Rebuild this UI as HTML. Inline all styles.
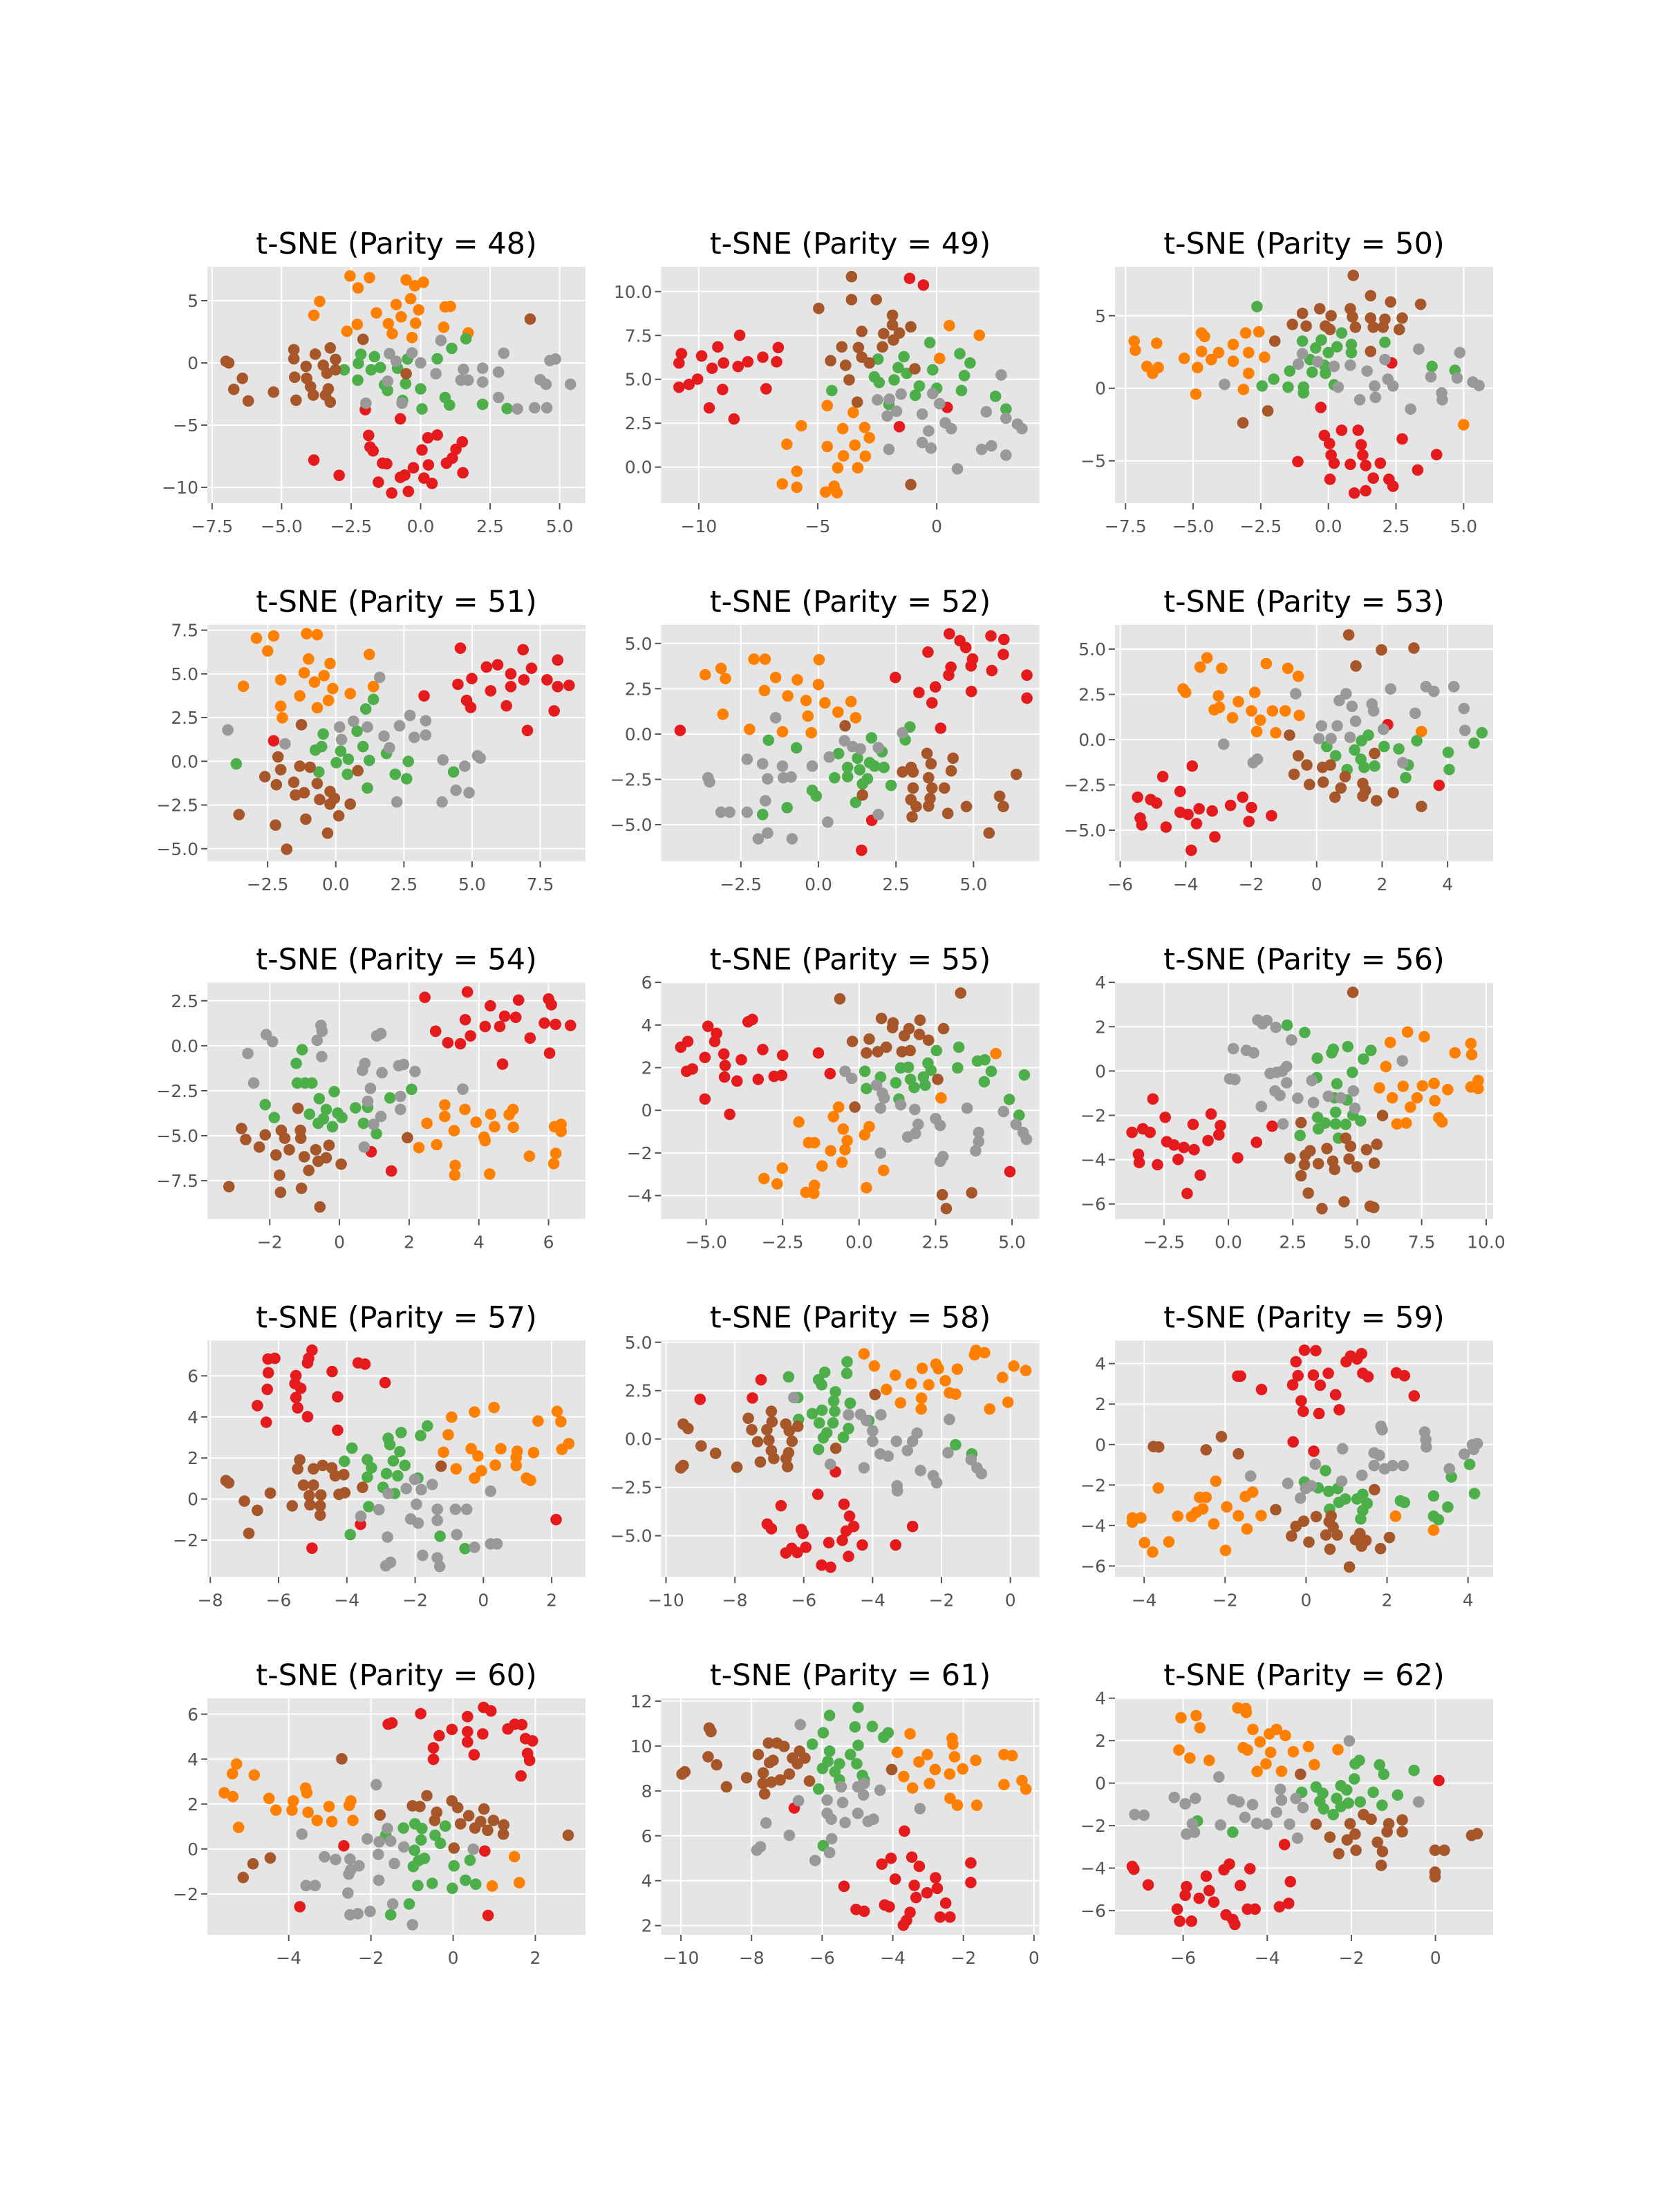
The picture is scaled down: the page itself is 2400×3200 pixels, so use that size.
<!DOCTYPE html>
<html>
<head>
<meta charset="utf-8">
<style>
  html, body { margin:0; padding:0; background:#ffffff; }
  svg { display:block; }
  text { font-family: "DejaVu Sans", "Liberation Sans", sans-serif; }
</style>
</head>
<body>
<svg id="fig" xmlns="http://www.w3.org/2000/svg" width="2400" height="3200" viewBox="0 0 2400 3200">
  <rect x="0" y="0" width="2400" height="3200" fill="#ffffff"/>
</svg>
<script>
// ---------- data ----------
const parities = [48,49,50,51,52,53,54,55,56,57,58,59,60,61,62];
const classNames = ["red","orange","green","gray","brown"];
const classColors = ["#e41a1c","#ff7f00","#4daf4a","#999999","#a65628"];

const xlims = [[-7.67,5.93],[-11.58,4.31],[-7.89,6.09],[-4.71,9.16],[-5.07,7.12],[-6.16,5.39],[-3.79,7.06],[-6.47,5.89],[-4.40,10.27],[-8.085,2.99],[-10.14,0.84],[-4.72,4.62],[-5.98,3.22],[-10.56,0.15],[-7.62,1.37]];
const ylims = [[-11.28,7.72],[-2.06,11.41],[-7.92,8.37],[-5.71,7.81],[-7.01,6.03],[-6.71,6.35],[-9.63,3.51],[-5.10,5.99],[-6.68,3.99],[-3.79,7.72],[-7.13,5.09],[-6.54,5.14],[-3.82,6.70],[1.59,12.12],[-7.14,3.99]];
const xticks = [[-7.5,-5,-2.5,0,2.5,5],[-10,-5,0],[-7.5,-5,-2.5,0,2.5,5],[-2.5,0,2.5,5,7.5],[-2.5,0,2.5,5],[-6,-4,-2,0,2,4],[-2,0,2,4,6],[-5,-2.5,0,2.5,5],[-2.5,0,2.5,5,7.5,10],[-8,-6,-4,-2,0,2],[-10,-8,-6,-4,-2,0],[-4,-2,0,2,4],[-4,-2,0,2],[-10,-8,-6,-4,-2,0],[-6,-4,-2,0]];
const yticks = [[-10,-5,0,5],[0,2.5,5,7.5,10],[-5,0,5],[-5,-2.5,0,2.5,5,7.5],[-5,-2.5,0,2.5,5],[-5,-2.5,0,2.5,5],[-7.5,-5,-2.5,0,2.5],[-4,-2,0,2,4,6],[-6,-4,-2,0,2,4],[-2,0,2,4,6],[-5,-2.5,0,2.5,5],[-6,-4,-2,0,2,4],[-2,0,2,4,6],[2,4,6,8,10,12],[-6,-4,-2,0,2,4]];

// Parity 48
const red48 = [[-1.99,-3.76],[-0.73,-4.5],[-1.87,-5.83],[-1.82,-6.76],[-1.71,-7.07],[-1.37,-8.06],[-1.22,-8.11],[-3.84,-7.81],[-2.93,-9.04],[-1.52,-9.59],[-1.04,-10.46],[-0.73,-9.2],[-0.57,-9.02],[-0.44,-10.33],[-0.26,-8.43],[0.05,-7.0],[0.26,-6.02],[0.6,-5.8],[0.28,-8.2],[0.12,-9.26],[0.41,-9.69],[0.93,-8.06],[1.14,-7.65],[1.27,-6.94],[1.5,-6.35],[1.52,-8.83]];
const orange48 = [[-2.54,6.98],[-1.84,6.85],[-2.25,6.02],[-0.52,6.67],[-0.21,6.2],[0.1,6.48],[-3.63,4.94],[-3.84,3.83],[-0.88,4.69],[-0.36,5.15],[-0.07,4.26],[-1.59,4.02],[-0.7,3.7],[-1.16,3.15],[-0.18,3.19],[-2.28,3.09],[-2.65,2.54],[-1.02,2.35],[-0.31,2.04],[0.88,4.5],[1.07,4.54],[0.83,2.87],[1.71,2.41]];
const green48 = [[-2.75,-0.56],[-2.15,0.69],[-2.24,-0.04],[-2.26,-1.39],[-1.66,0.5],[-1.78,-0.56],[-1.45,-0.37],[-0.83,-0.43],[-0.47,0.31],[-1.3,-1.76],[-1.19,-2.22],[-0.54,-1.67],[-0.65,-3.02],[0,-2.09],[0.05,-3.7],[0.6,0.33],[1.12,1.17],[1.63,1.94],[0.88,-2.78],[1.04,-3.39],[2.23,-3.33],[3.11,-3.67]];
const gray48 = [[-1.12,0.74],[-0.88,0.13],[-0.31,0.8],[0,0],[-1.19,-1.48],[-1.97,-3.24],[-0.67,-3.24],[0.73,1.8],[0.55,-0.87],[1.54,-0.52],[1.45,-1.39],[1.71,-1.39],[2.23,-0.43],[2.23,-1.54],[2.8,-0.74],[2.8,-2.78],[2.99,0.78],[3.48,-3.7],[4.1,-3.61],[4.54,-3.61],[4.3,-1.35],[4.51,-1.72],[4.65,0.19],[4.85,0.31],[5.39,-1.72]];
const brown48 = [[-7.0,0.13],[-6.9,0],[-6.41,-1.24],[-6.72,-2.13],[-6.2,-3.06],[-5.29,-2.35],[-4.56,1.06],[-4.56,0.33],[-3.79,0.7],[-3.25,1.2],[-4.12,-0.28],[-4.53,-1.15],[-4.1,-1.24],[-3.96,-1.91],[-3.86,-2.59],[-4.48,-3.0],[-3.5,-0.19],[-3.37,-0.83],[-3.06,0.28],[-3.06,-0.56],[-3.32,-2.09],[-3.25,-3.15],[-3.42,-2.59],[-2.07,1.89],[-0.52,-0.87],[3.94,3.52]];

// Parity 49
const red49 = [[-10.73,6.46],[-10.83,5.93],[-9.88,6.33],[-10.83,4.55],[-10.41,4.71],[-10.05,5.01],[-9.2,6.85],[-8.96,5.93],[-9.44,5.63],[-9.0,4.42],[-9.56,3.37],[-8.52,2.74],[-8.28,7.51],[-8.35,5.73],[-7.94,6.0],[-7.31,6.26],[-7.17,4.46],[-6.66,6.81],[-6.73,6.0],[-1.14,10.75],[-0.56,10.37],[0.44,3.4],[-1.57,2.3]];
const orange49 = [[0.53,8.06],[1.79,7.51],[0.12,6.19],[-4.6,3.5],[-3.51,3.11],[-5.69,2.35],[-3.95,2.19],[-3.03,2.26],[-2.83,1.67],[-6.3,1.3],[-4.6,1.17],[-3.44,1.25],[-3.92,0.64],[-3.0,0.62],[-4.16,-0.04],[-3.32,-0.04],[-5.88,-0.24],[-6.49,-0.96],[-5.88,-1.15],[-4.67,-1.42],[-4.19,-1.46],[-4.31,-1.09]];
const green49 = [[-0.29,7.09],[0.97,6.46],[1.4,5.93],[-2.47,6.15],[-1.38,6.29],[-1.62,5.67],[-0.17,5.54],[-1.26,5.34],[-2.62,5.14],[-2.42,4.82],[-1.79,4.97],[1.16,5.21],[-0.73,4.62],[0.0,4.49],[1.04,4.36],[-4.41,4.36],[-0.9,4.09],[2.47,4.03],[2.91,3.31],[-2.01,3.57]];
const gray49 = [[2.71,5.25],[-0.17,4.19],[-1.5,4.16],[-2.49,3.83],[-1.99,3.87],[0.12,3.61],[-1.69,3.18],[-0.61,3.02],[-2.08,2.91],[2.08,3.15],[2.91,2.78],[0.36,2.52],[0.61,2.19],[3.39,2.45],[3.58,2.19],[-0.34,2.06],[-0.61,1.4],[-0.24,1.08],[-2.01,1.01],[1.89,1.01],[2.3,1.21],[2.91,0.68],[0.87,-0.1]];
const brown49 = [[-3.58,10.85],[-3.58,9.54],[-2.54,9.54],[-4.96,9.04],[-1.86,8.65],[-1.86,8.1],[-1.09,7.99],[-3.15,7.73],[-2.23,7.6],[-1.57,7.64],[-3.99,6.85],[-3.29,6.81],[-2.28,6.85],[-4.46,6.06],[-3.83,5.8],[-3.15,6.26],[-2.83,5.93],[-0.92,5.6],[-3.68,4.97],[-3.34,3.7],[-1.09,-1.0],[-1.82,7.24]];

// Parity 50
const red50 = [[2.34,1.75],[-0.28,-1.32],[-0.15,-3.25],[0.49,-2.89],[1.1,-2.89],[0.04,-3.81],[1.21,-3.89],[2.73,-3.49],[0.1,-4.6],[1.27,-4.6],[4.0,-4.57],[-1.13,-5.05],[0.21,-5.16],[0.81,-5.24],[1.38,-5.32],[1.92,-5.16],[3.3,-5.63],[0.06,-6.27],[1.66,-6.19],[2.24,-6.27],[2.39,-6.75],[0.96,-7.22],[1.38,-7.06]];
const orange50 = [[-7.18,3.25],[-7.14,2.62],[-6.35,3.1],[-6.71,1.51],[-6.29,1.43],[-6.5,1.03],[-5.33,2.06],[-4.84,1.43],[-4.9,-0.4],[-4.69,3.81],[-4.58,3.57],[-4.69,2.54],[-4.33,1.98],[-4.06,2.46],[-3.52,1.86],[-3.52,3.02],[-3.06,3.81],[-2.57,3.89],[-2.95,2.46],[-2.36,2.14],[-2.95,1.03],[-3.14,-0.08],[5.0,-2.51]];
const green50 = [[-2.64,5.63],[0.49,3.81],[-0.96,3.25],[-0.26,3.33],[0.32,2.86],[0.85,3.02],[2.09,3.17],[-0.47,2.78],[0.0,2.46],[0.85,2.46],[-0.68,1.98],[-0.15,1.59],[-1.43,1.19],[-0.6,1.11],[-0.11,1.03],[-2.02,0.63],[-2.45,0.16],[-1.49,0.08],[-0.92,0.08],[-0.92,-0.32],[0.21,0.24],[3.83,1.51],[4.68,1.24]];
const gray50 = [[-0.96,2.38],[-1.11,1.67],[-0.39,1.83],[0.21,1.51],[0.81,1.59],[1.43,1.19],[2.09,1.98],[2.2,0.63],[1.71,0.16],[2.39,0.16],[0.36,0.08],[-3.84,0.27],[1.16,-0.79],[1.74,-0.63],[3.34,2.7],[4.86,2.46],[3.79,0.79],[4.76,0.71],[5.34,0.43],[5.57,0.19],[4.19,-0.32],[4.21,-0.79],[3.04,-1.43]];
const brown50 = [[0.92,7.78],[1.56,6.38],[2.3,5.95],[3.41,5.79],[-0.96,5.16],[-0.32,5.48],[0.1,5.0],[0.81,5.48],[0.89,4.92],[1.56,4.84],[2.09,4.76],[2.73,4.84],[-1.33,4.4],[-0.82,4.29],[-0.11,4.29],[1.0,4.21],[1.66,4.21],[2.02,4.21],[2.62,4.05],[0.06,4.05],[-1.98,3.25],[1.56,2.54],[-2.24,-1.56],[-3.16,-2.38]];

// Parity 51
const red51 = [[4.57,6.47],[6.87,6.38],[8.14,5.79],[5.53,5.39],[5.94,5.52],[7.18,5.32],[6.42,5.0],[4.99,4.73],[4.48,4.4],[6.9,4.66],[7.75,4.66],[5.68,4.03],[6.42,4.27],[8.56,4.34],[8.14,4.27],[3.24,3.74],[4.8,3.48],[4.95,3.08],[6.26,3.17],[8.01,2.88],[7.03,1.76],[-2.28,1.17]];
const orange51 = [[-2.91,7.04],[-2.28,7.17],[-1.07,7.3],[-0.68,7.24],[-2.5,6.31],[-1.0,5.85],[-0.21,5.59],[1.23,6.11],[-3.39,4.29],[-2.02,4.66],[-1.16,5.06],[-0.43,4.9],[-0.78,4.53],[-0.11,4.16],[0.53,3.87],[-1.32,3.74],[-0.27,3.48],[-0.68,3.06],[-2.02,3.15],[-1.96,2.49],[1.38,4.27]];
const green51 = [[1.38,3.54],[1.1,2.99],[0.78,1.72],[-0.46,1.56],[-0.75,0.64],[-0.52,0.84],[0.18,0.58],[1.0,0.84],[0.46,0.12],[0.02,-0.08],[1.23,0.05],[1.86,0.45],[2.66,-0.01],[-3.65,-0.15],[-0.62,-0.61],[0.43,-0.74],[2.18,-0.74],[2.6,-1.0],[1.16,-1.53],[4.32,-0.61]];
const gray51 = [[-3.96,1.79],[1.61,4.8],[0.65,2.29],[2.72,2.62],[3.3,2.32],[2.34,2.03],[0.14,1.96],[1.16,1.96],[0.21,1.24],[1.77,1.44],[2.88,1.37],[3.3,1.5],[1.97,0.77],[-1.86,1.0],[3.93,0.08],[5.3,0.18],[5.2,0.31],[4.73,-0.28],[4.41,-1.66],[4.89,-1.8],[2.24,-2.33],[3.9,-2.33]];
const brown51 = [[-1.26,2.09],[-2.12,0.25],[-2.02,-0.48],[-2.6,-0.88],[-1.32,-0.28],[-0.94,-0.34],[-2.18,-1.34],[-1.54,-1.2],[-0.68,-1.27],[0.81,-0.54],[-0.21,-1.73],[-1.48,-1.93],[-1.16,-1.8],[-0.59,-2.19],[-0.05,-2.12],[-0.21,-2.45],[0.53,-2.45],[-3.55,-3.05],[0.11,-3.12],[-2.21,-3.65],[-1.1,-3.31],[-0.3,-4.11],[-1.8,-5.03]];

// Parity 52
const red52 = [[4.22,5.53],[5.56,5.41],[5.98,5.22],[4.56,5.15],[4.75,4.77],[3.53,4.52],[5.96,4.39],[4.97,4.14],[4.27,3.69],[4.92,3.76],[5.59,3.5],[4.2,3.25],[6.72,3.25],[2.48,3.12],[3.77,2.6],[3.24,2.29],[4.93,2.35],[3.66,1.72],[6.72,1.98],[3.94,0.32],[-4.46,0.2],[1.72,-4.76],[1.39,-6.41]];
const orange52 = [[-3.65,3.27],[-3.14,3.62],[-2.08,4.13],[-1.72,4.13],[0.02,4.1],[-3.0,3.06],[-1.38,3.12],[-0.68,2.99],[0.0,2.73],[-1.74,2.4],[-0.99,2.1],[-0.4,1.85],[0.21,1.72],[1.05,1.79],[0.63,1.21],[-3.08,1.09],[-0.34,0.99],[1.2,0.9],[-2.22,0.26],[-1.16,0.13],[-0.23,0.07]];
const green52 = [[2.95,0.39],[-1.61,-0.34],[1.71,-0.21],[2.8,-0.32],[-0.71,-0.76],[0.65,-1.08],[2.05,-0.98],[1.26,-1.33],[1.65,-1.58],[0.94,-1.84],[1.81,-1.77],[2.11,-1.84],[1.33,-1.97],[0.52,-2.41],[0.94,-2.35],[1.58,-2.47],[1.42,-2.75],[2.34,-2.83],[-0.2,-3.11],[-0.07,-3.42],[1.2,-3.77],[-1.01,-4.06],[-1.8,-4.44]];
const gray52 = [[-1.38,0.9],[0.84,-0.37],[1.1,-0.69],[1.35,-0.82],[1.93,-0.75],[2.71,0.07],[0.35,-1.27],[-2.3,-1.39],[-1.8,-1.64],[-1.16,-1.77],[-0.2,-1.77],[-1.64,-2.47],[-1.13,-2.41],[-0.88,-2.37],[-3.56,-2.41],[-3.51,-2.64],[-1.71,-3.68],[-3.14,-4.31],[-2.86,-4.31],[-2.3,-4.31],[0.3,-4.86],[1.93,-4.44],[-1.94,-5.78],[-1.64,-5.46],[-0.85,-5.78]];
const brown52 = [[0.86,0.45],[3.5,-1.07],[4.34,-1.33],[2.99,-1.84],[3.63,-1.64],[2.71,-2.09],[3.05,-2.09],[4.28,-2.03],[3.55,-2.41],[6.38,-2.22],[3.05,-2.98],[3.66,-2.98],[4.06,-2.98],[1.42,-3.36],[2.98,-3.62],[3.6,-3.55],[5.84,-3.43],[3.15,-4.0],[4.77,-4.0],[5.96,-4.0],[3.55,-3.97],[4.17,-4.38],[3.02,-4.57],[5.5,-5.46]];

// Parity 53
const red53 = [[2.17,0.83],[-3.8,-1.46],[-4.7,-2.04],[-4.17,-2.86],[-5.47,-3.18],[-5.07,-3.31],[-4.89,-3.5],[-2.26,-3.18],[-2.63,-3.63],[-1.99,-3.75],[-3.59,-3.82],[-3.19,-3.94],[-4.17,-4.01],[-3.93,-4.13],[-1.38,-4.2],[-5.39,-4.33],[-5.34,-4.71],[-2.07,-4.52],[-3.67,-4.64],[-4.6,-4.83],[-3.11,-5.37],[-3.83,-6.11],[3.74,-2.52]];
const orange53 = [[-3.35,4.52],[-3.56,4.01],[-2.9,3.94],[-1.54,4.2],[-0.88,3.94],[-0.56,3.5],[-4.08,2.8],[-4.0,2.61],[-3.0,2.42],[-1.89,2.61],[-2.39,2.1],[-3.13,1.65],[-2.97,1.78],[-2.57,1.21],[-1.99,1.59],[-1.35,1.59],[-0.96,1.59],[-1.72,1.08],[-0.53,1.34],[-1.83,0.45],[-1.25,0.38],[3.2,0.45]];
const green53 = [[5.05,0.38],[4.81,-0.19],[3.06,-0.06],[1.58,0.25],[1.37,-0.06],[2.06,-0.38],[2.51,-0.51],[0.31,-0.38],[1.16,-0.57],[0.58,-0.89],[1.35,-1.08],[4.02,-0.7],[1.45,-1.53],[1.77,-1.46],[2.8,-1.4],[0.93,-1.65],[4.05,-1.65],[2.72,-2.1]];
const gray53 = [[3.34,2.93],[3.58,2.67],[4.19,2.93],[2.26,2.8],[-0.64,2.54],[0.9,2.54],[0.69,2.16],[1.08,1.84],[1.69,1.97],[1.74,1.59],[3.01,1.46],[4.5,1.72],[1.19,1.02],[0.15,0.76],[0.63,0.76],[2.04,0.57],[1.02,0.13],[0.07,0.06],[0.44,0.06],[4.53,0.51],[-2.84,-0.25],[-1.81,-1.08],[-1.94,-1.27],[2.63,-1.27]];
const brown53 = [[0.98,5.79],[2.97,5.06],[1.98,4.96],[1.2,4.07],[-0.83,0.25],[-0.56,-0.89],[-0.3,-1.4],[0.18,-1.53],[0.42,-1.4],[-0.69,-1.91],[1.77,-0.76],[0.87,-2.04],[-0.22,-2.48],[0.2,-2.35],[1.41,-2.42],[0.74,-2.67],[1.49,-2.8],[0.56,-3.18],[1.41,-3.12],[2.34,-2.93],[1.83,-3.37],[3.2,-3.69]];

// Parity 54
const red54 = [[2.45,2.69],[3.67,2.99],[5.14,2.54],[6.0,2.6],[6.08,2.28],[4.33,2.22],[4.74,1.64],[5.06,1.58],[3.61,1.45],[4.18,1.07],[4.6,1.07],[5.88,1.26],[6.2,1.19],[6.63,1.13],[2.76,0.81],[3.76,0.55],[3.11,0.17],[3.47,0.11],[5.47,0.43],[6.03,-0.41],[4.68,-1.02],[0.91,-5.89],[1.49,-6.96]];
const orange54 = [[3.02,-3.29],[3.6,-3.54],[4.34,-3.8],[4.98,-3.54],[4.87,-3.83],[3.02,-3.93],[2.51,-4.31],[3.92,-4.25],[4.45,-4.5],[3.29,-4.72],[4.99,-4.53],[6.17,-4.5],[6.36,-4.37],[6.36,-4.76],[4.15,-5.08],[4.18,-5.27],[2.28,-5.66],[2.79,-5.5],[5.45,-6.14],[6.21,-5.98],[6.15,-6.55],[3.32,-6.65],[3.31,-7.19],[4.31,-7.13]];
const green54 = [[-1.07,-0.22],[-1.24,-0.98],[-1.21,-2.07],[-0.99,-2.07],[-0.79,-2.07],[-0.15,-2.55],[-0.58,-2.94],[-2.13,-3.27],[-1.87,-3.99],[-0.86,-3.8],[-0.38,-3.54],[-0.05,-3.74],[0.07,-3.99],[-0.46,-4.06],[-0.61,-4.31],[-0.2,-4.5],[0.46,-3.45],[0.81,-3.42],[0.69,-4.31],[1.06,-4.89],[1.45,-2.9],[2.07,-2.42]];
const gray54 = [[-2.1,0.62],[-1.92,0.23],[-2.63,-0.43],[-2.46,-2.07],[-0.53,1.13],[-0.5,0.81],[-0.64,0.3],[-0.51,-0.6],[1.07,0.55],[1.19,0.68],[0.73,-0.98],[0.66,-1.37],[1.22,-1.5],[1.7,-1.11],[1.84,-1.04],[2.17,-1.43],[0.89,-2.37],[0.81,-3.09],[1.75,-2.81],[1.75,-3.54],[1.19,-3.93],[0.98,-4.37],[3.54,-2.41],[0.71,-5.63]];
const brown54 = [[-1.19,-3.48],[-2.81,-4.6],[-2.69,-5.21],[-2.13,-4.95],[-1.67,-4.7],[-1.57,-5.14],[-1.12,-4.7],[-1.11,-5.14],[-2.3,-5.63],[-1.82,-6.07],[-1.44,-5.78],[-0.68,-5.78],[-0.3,-5.53],[-1.01,-6.17],[-0.61,-6.42],[-0.38,-6.23],[0.05,-6.58],[-0.88,-6.93],[-1.72,-7.19],[-3.17,-7.83],[-1.09,-7.92],[-1.69,-8.15],[-0.56,-8.96],[1.95,-5.11]];

// Parity 55
const red55 = [[-5.83,2.96],[-5.6,3.23],[-4.94,3.94],[-4.66,3.61],[-4.72,3.23],[-3.63,4.15],[-3.49,4.26],[-3.15,2.85],[-5.64,1.83],[-5.45,1.94],[-5.04,2.48],[-4.42,2.64],[-4.38,2.1],[-3.85,2.37],[-2.5,2.58],[-1.33,2.69],[-4.4,1.56],[-3.99,1.37],[-3.3,1.45],[-2.78,1.59],[-2.53,1.64],[-0.95,1.72],[-5.04,0.53],[-4.23,-0.19],[4.93,-2.88]];
const orange55 = [[4.47,2.66],[2.68,0.58],[-0.67,0.15],[-0.84,-0.3],[-1.97,-0.55],[-0.52,-0.88],[0.33,-0.77],[0.18,-1.15],[-0.39,-1.42],[-1.65,-1.52],[-1.46,-1.52],[-0.46,-1.85],[-0.93,-1.9],[-0.56,-2.44],[-1.21,-2.61],[-2.51,-2.71],[0.8,-2.82],[-3.11,-3.2],[-2.68,-3.45],[-1.46,-3.52],[-1.74,-3.85],[-1.48,-3.9],[0.24,-3.63]];
const green55 = [[2.53,2.8],[3.26,2.96],[0.19,1.83],[0.7,1.56],[1.36,1.99],[1.61,2.02],[2.25,2.21],[2.35,1.88],[2.1,1.56],[1.68,1.45],[1.2,1.29],[0.24,1.02],[1.8,1.07],[2.16,1.18],[3.22,1.99],[3.87,2.31],[4.11,2.37],[4.32,1.83],[4.09,1.34],[5.4,1.66],[4.91,0.51],[5.23,-0.23],[1.3,0.53]];
const gray55 = [[-0.46,1.83],[-0.24,1.5],[0.57,1.18],[0.76,0.8],[0.82,0.58],[0.7,0.1],[1.36,0.26],[1.82,0.04],[3.53,0.1],[4.72,-0.06],[2.5,-0.39],[2.65,-0.71],[1.93,-0.66],[1.84,-1.09],[1.59,-1.25],[5.13,-0.66],[5.36,-1.04],[5.47,-1.36],[3.91,-1.04],[3.91,-1.47],[3.81,-1.9],[0.7,-2.01],[2.74,-2.17],[2.65,-2.39]];
const brown55 = [[-0.63,5.23],[3.32,5.5],[0.73,4.31],[1.99,4.23],[1.11,4.1],[1.09,3.88],[1.63,3.83],[2.76,3.83],[-0.22,3.23],[0.33,3.34],[1.48,3.5],[1.97,3.56],[2.27,3.29],[0.24,2.69],[0.61,2.75],[0.89,2.96],[1.4,2.75],[1.67,2.8],[2.57,1.45],[-0.14,0.15],[2.72,-3.96],[2.85,-4.61],[3.68,-3.87]];

// Parity 56
const red56 = [[-2.93,-1.26],[-2.45,-2.09],[-0.67,-1.94],[-0.31,-2.46],[1.7,-2.49],[-3.74,-2.77],[-3.32,-2.61],[-3.04,-2.77],[-2.39,-3.19],[-2.11,-3.34],[-1.73,-3.45],[-1.33,-3.55],[-1.37,-2.41],[-0.79,-3.14],[-0.37,-2.88],[1.09,-3.22],[-3.49,-3.76],[-3.46,-4.13],[-2.75,-4.23],[-1.95,-3.99],[0.36,-3.92],[-1.09,-4.7],[-1.6,-5.53]];
const orange56 = [[6.28,1.29],[6.95,1.76],[7.6,1.55],[9.41,1.24],[8.79,0.82],[9.44,0.74],[6.11,0.2],[5.86,-0.76],[6.78,-0.69],[7.53,-0.67],[7.98,-0.56],[8.51,-0.84],[9.41,-0.72],[9.69,-0.43],[9.69,-0.79],[6.36,-1.21],[7.32,-1.21],[7.06,-1.63],[8.01,-1.34],[8.16,-2.11],[8.29,-2.3],[6.54,-2.39],[6.9,-2.35]];
const green56 = [[2.28,2.07],[2.96,1.74],[3.45,0.58],[4.01,0.82],[4.07,0.98],[4.63,1.1],[5.24,0.54],[5.53,0.93],[4.81,-0.06],[3.43,-0.3],[4.21,-0.58],[4.12,-1.21],[4.6,-1.31],[3.46,-2.09],[4.16,-1.86],[4.83,-1.99],[5.13,-2.25],[3.75,-2.35],[3.49,-2.61],[4.16,-2.39],[4.55,-2.41],[2.78,-2.91],[4.27,-3.03]];
const gray56 = [[1.14,2.3],[1.33,2.13],[1.49,2.28],[1.84,1.97],[2.45,1.4],[0.19,1.01],[0.7,0.93],[0.98,0.82],[0.05,-0.35],[0.25,-0.38],[1.62,-0.11],[1.87,-0.06],[2.09,-0.01],[2.26,0.2],[2.26,-0.53],[1.81,-0.9],[2.0,-1.1],[2.69,-1.23],[1.28,-1.6],[3.24,-0.43],[3.3,-1.42],[3.88,-1.14],[4.36,-1.21],[4.85,-0.9],[4.91,-1.68],[2.12,-2.39],[6.75,0.46]];
const brown56 = [[4.83,3.55],[5.98,-2.01],[2.82,-2.33],[4.55,-3.03],[4.74,-3.4],[5.76,-3.31],[5.36,-3.55],[3.82,-3.5],[3.17,-3.6],[2.98,-3.81],[2.39,-3.94],[3.49,-4.18],[4.05,-4.07],[4.68,-3.97],[2.95,-4.23],[4.12,-4.44],[4.99,-4.33],[5.66,-4.16],[2.82,-4.73],[3.1,-5.51],[3.63,-6.21],[4.49,-5.9],[5.5,-6.1],[5.64,-6.16]];

// Parity 57
const red57 = [[-6.31,6.82],[-6.11,6.85],[-5.02,7.25],[-5.12,6.85],[-5.15,6.63],[-6.3,6.15],[-5.49,6.01],[-5.52,5.62],[-5.35,5.39],[-6.33,5.34],[-4.43,6.21],[-3.67,6.63],[-3.47,6.57],[-2.88,5.67],[-4.27,4.98],[-6.62,4.55],[-5.49,4.94],[-5.44,4.44],[-5.15,4.01],[-6.36,3.74],[-4.27,3.35],[-3.6,-1.23],[-5.02,-2.39],[2.13,-1.0]];
const orange57 = [[0.31,4.46],[-0.26,4.24],[-0.93,3.99],[2.16,4.27],[2.27,3.77],[1.6,3.8],[-1.03,3.13],[2.5,2.7],[2.3,2.42],[-0.36,2.45],[0.51,2.45],[0.99,2.33],[1.47,2.26],[-1.17,2.28],[-0.16,2.1],[0.96,2.02],[0.35,1.65],[0.96,1.63],[-0.8,1.47],[-0.06,1.38],[-0.26,1.02],[1.26,1.02],[1.38,0.91]];
const green57 = [[-1.64,3.56],[-1.84,3.09],[-2.41,3.24],[-2.79,2.96],[-2.74,2.65],[-2.45,2.31],[-3.85,2.48],[-4.07,1.84],[-3.4,1.92],[-3.28,1.52],[-3.4,1.07],[-2.64,1.86],[-2.3,1.64],[-2.84,1.24],[-2.51,1.13],[-1.92,1.02],[-2.94,0.57],[-2.6,0.27],[-3.36,-0.37],[-3.9,-1.73],[-1.27,-1.81],[-0.54,-2.41]];
const gray57 = [[-2.01,0.96],[-2.26,0.51],[-1.82,0.46],[-1.5,0.71],[-2.79,0.27],[0.21,0.38],[-1.96,-0.25],[-3.06,-0.52],[-3.59,-0.84],[-1.35,-0.5],[-0.82,-0.5],[-0.49,-0.5],[-2.13,-0.97],[-1.91,-1.17],[-1.35,-1.04],[-0.78,-1.73],[-2.81,-1.85],[-0.26,-2.35],[0.21,-2.18],[0.4,-2.18],[-1.78,-2.74],[-1.35,-2.86],[-1.28,-3.28],[-2.72,-3.08],[-2.86,-3.25]];
const brown57 = [[-7.54,0.9],[-7.46,0.79],[-7.0,-0.1],[-6.62,-0.55],[-6.87,-1.67],[-6.24,0.29],[-5.6,-0.33],[-5.38,1.91],[-5.44,1.47],[-4.98,1.47],[-4.71,1.64],[-4.44,1.52],[-4.34,1.13],[-4.09,1.19],[-5.27,0.68],[-4.98,0.68],[-5.1,0.17],[-4.76,0.2],[-5.08,-0.28],[-4.78,-0.33],[-4.78,-0.78],[-4.23,0.23],[-4.06,0.31],[-3.54,0.57],[-1.24,1.6]];

// Parity 58
const red58 = [[-7.24,3.06],[-9.01,2.05],[-7.49,2.12],[-5.08,-1.7],[-5.59,-2.86],[-6.66,-3.45],[-4.83,-3.37],[-7.06,-4.4],[-6.94,-4.64],[-6.07,-4.68],[-6.02,-4.88],[-4.67,-3.99],[-4.55,-4.52],[-4.77,-4.76],[-2.84,-4.52],[-4.88,-5.24],[-5.27,-5.36],[-4.3,-5.48],[-3.33,-5.48],[-6.35,-5.65],[-5.94,-5.6],[-6.52,-5.89],[-6.19,-5.87],[-4.7,-6.07],[-5.48,-6.52],[-5.22,-6.63]];
const orange58 = [[-4.25,4.4],[-3.95,3.77],[-3.34,3.3],[-2.56,3.65],[-2.16,3.87],[-2.09,3.63],[-1.54,3.61],[-1.0,4.58],[-0.75,4.46],[-1.04,4.35],[0.1,3.77],[0.45,3.54],[-0.23,3.18],[-2.88,2.86],[-2.37,2.8],[-1.89,3.01],[-3.6,2.56],[-1.77,2.38],[-1.59,2.32],[-2.58,2.11],[-3.19,1.87],[-2.59,1.55],[-0.07,1.9],[-0.6,1.55]];
const green58 = [[-6.44,3.21],[-5.39,3.45],[-4.74,3.99],[-4.75,3.39],[-5.57,3.06],[-5.48,2.8],[-6.17,2.14],[-5.08,2.44],[-5.13,1.96],[-4.65,1.85],[-5.47,1.49],[-5.1,1.43],[-5.75,1.31],[-5.55,0.83],[-5.15,0.83],[-6.15,1.01],[-4.7,0.54],[-5.33,0.32],[-5.43,0.06],[-4.85,0.08],[-5.57,-0.54],[-4.11,0.95],[-1.59,-0.3],[-1.12,-0.77]];
const gray58 = [[-6.29,2.14],[-4.7,1.25],[-4.35,1.27],[-3.76,1.25],[-4.18,0.95],[-1.77,1.01],[-4.0,0.42],[-4.0,-0.12],[-3.31,-0.12],[-2.71,0.3],[-2.84,-0.12],[-2.99,-0.6],[-3.78,-0.77],[-3.55,-0.89],[-1.81,-0.71],[-1.14,-1.07],[-5.23,-1.31],[-4.25,-1.49],[-2.61,-1.63],[-0.97,-1.49],[-0.84,-1.79],[-2.24,-1.9],[-2.14,-2.26],[-3.29,-2.42],[-3.28,-2.68]];
const brown58 = [[-9.5,0.77],[-9.36,0.54],[-8.98,-0.36],[-8.56,-0.74],[-9.57,-1.49],[-9.5,-1.37],[-7.94,-1.46],[-7.61,1.07],[-6.94,1.43],[-6.92,0.89],[-7.51,0.48],[-7.07,0.48],[-6.52,0.77],[-6.17,0.65],[-6.42,0.42],[-7.34,-0.14],[-7.01,-0.06],[-6.34,-0.12],[-6.94,-0.6],[-6.44,-0.71],[-7.26,-1.19],[-6.87,-1.01],[-6.51,-1.01],[-6.47,-1.43],[-5.07,-0.48],[-3.93,2.3]];

// Parity 59
const red59 = [[-0.04,4.66],[0.24,4.64],[1.1,4.37],[1.37,4.49],[1.26,4.23],[0.99,4.09],[-0.25,4.09],[-1.69,3.38],[-1.62,3.38],[-1.1,2.72],[-0.2,3.4],[0.18,3.43],[0.55,3.52],[1.4,3.52],[1.53,3.35],[2.23,3.54],[2.43,3.4],[-0.33,2.95],[0.35,2.93],[0.73,2.46],[2.67,2.4],[-0.12,2.16],[-0.07,1.64],[0.32,1.53],[0.82,1.72],[-0.32,0.13],[0.19,-0.33]];
const orange59 = [[-3.65,-2.15],[-2.23,-1.81],[-2.63,-2.61],[-2.47,-2.61],[-2.55,-3.18],[-2.71,-3.35],[-2.83,-3.56],[-1.96,-3.08],[-1.32,-2.35],[-1.5,-2.57],[-4.29,-3.62],[-4.08,-3.62],[-4.29,-3.83],[-3.17,-3.54],[-1.67,-3.52],[-1.11,-3.51],[-2.28,-3.92],[-1.46,-4.17],[-3.99,-4.85],[-3.39,-4.81],[-3.79,-5.31],[-1.99,-5.23],[2.21,-3.54],[3.15,-4.23]];
const green59 = [[0.48,-1.29],[4.04,-0.98],[3.59,-1.6],[-0.04,-1.85],[0.3,-2.14],[0.56,-2.31],[0.78,-2.17],[0.97,-2.69],[1.26,-2.69],[1.4,-2.46],[1.51,-2.91],[1.4,-3.26],[0.81,-2.86],[0.58,-3.2],[1.35,-3.68],[3.15,-2.54],[2.33,-2.78],[2.43,-2.86],[3.5,-3.09],[3.15,-3.54],[3.27,-3.71],[4.16,-2.42]];
const gray59 = [[1.85,0.9],[1.88,0.73],[2.93,0.62],[2.96,0.24],[2.97,-0.12],[4.11,-0.01],[4.23,0.05],[4.14,-0.24],[3.91,-0.47],[1.68,-0.41],[1.81,-0.53],[0.9,-0.21],[1.68,-1.04],[1.94,-1.2],[2.14,-1.04],[2.4,-1.04],[3.54,-1.2],[0.23,-0.97],[1.38,-1.52],[0.88,-1.81],[-1.37,-1.56],[-0.45,-1.92],[-0.01,-2.17],[0.13,-2.04],[-0.14,-2.65]];
const brown59 = [[-3.77,-0.1],[-3.64,-0.12],[-2.47,-0.26],[-2.09,0.39],[-1.67,-0.46],[-0.75,-3.22],[1.69,-2.23],[-0.06,-3.79],[-0.25,-4.04],[-0.36,-4.52],[0.07,-4.82],[0.25,-3.56],[0.62,-3.53],[0.57,-3.81],[0.67,-4.08],[0.49,-4.47],[0.77,-4.47],[0.59,-5.17],[1.33,-4.4],[1.22,-4.7],[1.48,-4.74],[1.37,-5.02],[2.06,-4.59],[1.84,-5.14],[1.07,-6.05]];

// Parity 60
const red60 = [[0.74,6.3],[0.92,6.14],[-0.79,6.02],[0.35,5.89],[-1.58,5.55],[-1.49,5.61],[-0.03,5.32],[0.35,5.22],[-0.34,5.04],[0.72,5.12],[1.33,5.34],[1.5,5.55],[1.67,5.53],[1.76,4.91],[1.93,4.81],[0.35,4.76],[-0.48,4.5],[0.51,4.19],[1.81,4.25],[1.86,3.94],[-0.48,3.99],[1.65,3.25],[-2.66,0.14],[0.77,-0.09],[-3.73,-2.57],[0.85,-2.96]];
const orange60 = [[-5.27,3.78],[-5.37,3.35],[-4.84,3.29],[-5.57,2.5],[-5.36,2.33],[-4.48,2.25],[-3.89,2.14],[-3.59,2.71],[-3.56,2.5],[-4.31,1.73],[-3.92,1.73],[-3.53,1.63],[-3.02,1.89],[-2.49,2.14],[-2.53,1.94],[-3.31,1.27],[-2.95,1.22],[-2.44,1.27],[-5.22,0.96],[1.49,-0.34],[0.95,-1.65],[1.61,-1.5]];
const green60 = [[-1.21,0.93],[-0.93,1.12],[-0.76,0.91],[-0.19,1.02],[-0.44,0.61],[-0.31,0.25],[-0.78,0.4],[-0.94,-0.06],[-0.7,-0.42],[-0.84,-0.52],[-0.97,-0.78],[0.02,-0.75],[0.41,-0.5],[0.3,-1.39],[0.55,-1.57],[-0.51,-1.53],[-0.86,-1.63],[-0.02,-1.75],[-1.07,-2.45],[-1.52,-2.93],[-1.64,0.61]];
const gray60 = [[-1.87,2.86],[-3.68,0.66],[-1.6,0.91],[-2.09,0.45],[-1.8,0.32],[-1.52,0.35],[-1.2,0.09],[0.49,-0.01],[-1.82,-0.24],[-3.13,-0.35],[-2.86,-0.47],[-2.51,-0.45],[-1.43,-0.65],[-2.29,-0.75],[-2.49,-0.93],[-2.54,-1.12],[-1.81,-1.39],[-3.58,-1.63],[-3.36,-1.63],[-2.56,-1.96],[-1.47,-2.45],[-2.51,-2.93],[-2.32,-2.88],[-2.02,-2.78],[-0.99,-3.37]];
const brown60 = [[-2.71,4.01],[-0.64,2.37],[-0.03,2.14],[0.11,1.84],[-0.99,1.92],[-0.81,1.89],[0.75,1.78],[-1.78,1.51],[-0.4,1.63],[0.38,1.48],[-0.45,1.27],[0.18,1.12],[0.67,1.22],[0.98,1.27],[1.23,1.07],[0.53,0.93],[0.84,0.83],[1.22,0.66],[2.8,0.61],[0.02,0.04],[-4.45,-0.4],[-4.87,-0.66],[-5.11,-1.27]];

// Parity 61
const red61 = [[-6.79,7.24],[-3.67,6.21],[-4.31,4.74],[-4.05,5.0],[-3.46,5.05],[-3.25,4.64],[-1.79,4.79],[-3.93,4.07],[-2.79,4.13],[-1.79,3.92],[-5.38,3.75],[-3.39,3.79],[-2.74,3.66],[-3.03,3.46],[-3.34,3.25],[-2.5,3.0],[-4.23,2.92],[-4.1,2.84],[-5.04,2.72],[-4.81,2.64],[-3.51,2.59],[-2.66,2.38],[-2.38,2.38],[-3.61,2.23],[-3.7,2.02]];
const orange61 = [[-3.51,10.54],[-2.32,10.34],[-2.3,10.08],[-0.85,9.62],[-0.62,9.57],[-3.87,9.72],[-3.02,9.62],[-2.25,9.52],[-3.26,9.29],[-1.65,9.36],[-2.8,8.95],[-2.02,8.98],[-2.39,8.75],[-3.69,8.64],[-0.34,8.46],[-2.96,8.33],[-0.85,8.28],[-0.23,8.08],[-3.44,8.13],[-2.38,7.67],[-2.17,7.36],[-1.62,7.36]];
const green61 = [[-4.98,11.72],[-5.79,11.36],[-5.97,10.59],[-5.07,10.85],[-4.58,10.87],[-4.13,10.59],[-4.26,10.39],[-6.28,10.08],[-4.98,10.03],[-5.79,9.77],[-5.2,9.62],[-5.84,9.31],[-5.51,9.21],[-5.02,9.21],[-5.99,9.0],[-5.64,8.85],[-4.86,8.69],[-4.81,8.49],[-5.51,8.49],[-6.1,8.08],[-5.97,5.56]];
const gray61 = [[-6.62,10.95],[-5.46,8.18],[-4.99,8.18],[-4.81,8.33],[-4.36,8.03],[-4.83,7.82],[-6.67,7.56],[-5.86,7.59],[-5.42,7.48],[-3.23,7.21],[-5.86,7.0],[-5.74,6.74],[-4.99,7.0],[-5.35,6.59],[-4.7,6.64],[-4.55,6.74],[-7.59,6.57],[-6.93,6.02],[-5.73,5.87],[-7.85,5.36],[-7.75,5.51],[-5.79,5.25],[-6.2,4.9]];
const brown61 = [[-9.2,10.8],[-9.15,10.64],[-9.97,8.75],[-9.89,8.85],[-9.23,9.52],[-8.99,9.16],[-8.71,8.18],[-8.14,8.59],[-7.81,9.62],[-7.52,10.13],[-7.28,10.13],[-7.08,9.98],[-7.39,9.36],[-7.49,9.26],[-7.67,8.8],[-7.68,8.33],[-7.63,7.87],[-7.44,8.39],[-7.19,8.49],[-6.93,8.75],[-6.84,9.46],[-6.7,9.21],[-6.49,9.46],[-6.36,8.44],[-6.64,9.77],[-4.03,8.95]];

// Parity 62
const red62 = [[0.08,0.12],[-3.59,-2.89],[-7.21,-3.92],[-7.17,-4.05],[-6.83,-4.79],[-5.92,-4.87],[-5.95,-5.28],[-5.45,-4.38],[-5.38,-5.06],[-5.62,-5.42],[-5.27,-5.6],[-5.03,-4.08],[-4.9,-3.81],[-4.64,-4.82],[-4.41,-4.03],[-3.45,-4.64],[-6.14,-5.93],[-6.08,-6.5],[-5.8,-6.5],[-4.98,-6.2],[-4.82,-6.42],[-4.77,-6.65],[-4.47,-5.93],[-4.29,-5.93],[-3.71,-5.82],[-3.49,-5.66]];
const orange62 = [[-6.05,3.08],[-5.69,3.18],[-5.6,2.61],[-4.7,3.54],[-4.51,3.51],[-4.5,3.33],[-4.34,2.53],[-3.95,2.32],[-3.78,2.53],[-3.57,2.24],[-4.17,1.94],[-6.1,1.56],[-4.57,1.67],[-4.47,1.56],[-5.84,1.18],[-5.38,1.07],[-3.92,1.45],[-3.38,1.48],[-3.02,1.72],[-2.32,1.58],[-4.03,0.91],[-2.88,0.87],[-4.24,0.55],[-3.66,0.56]];
const green62 = [[-5.66,-1.78],[-4.82,-2.31],[-3.18,-0.43],[-2.84,-0.18],[-2.68,-0.48],[-2.75,-0.86],[-2.66,-1.21],[-2.43,-1.48],[-2.35,-0.72],[-2.25,-0.12],[-2.11,-0.32],[-2.25,-1.1],[-2.07,-0.94],[-1.79,-0.88],[-1.93,0.2],[-1.91,0.91],[-1.81,1.07],[-1.48,-0.43],[-1.33,0.86],[-1.27,-1.04],[-1.23,0.42],[-0.9,-0.56],[-0.51,0.6]];
const gray62 = [[-2.05,1.99],[-5.15,0.29],[-6.21,-0.67],[-5.95,-0.97],[-5.71,-0.72],[-7.15,-1.48],[-6.93,-1.51],[-5.78,-1.91],[-5.92,-2.4],[-5.73,-2.31],[-5.11,-1.97],[-4.82,-0.77],[-4.67,-0.88],[-4.35,-1.01],[-4.53,-1.61],[-4.25,-1.89],[-4.01,-1.93],[-3.69,-0.29],[-3.66,-0.8],[-3.78,-1.37],[-3.47,-1.93],[-3.32,-0.72],[-3.15,-1.15],[-3.28,-2.59],[-0.4,-0.88]];
const brown62 = [[-3.21,0.42],[-2.84,-1.93],[-2.51,-2.54],[-2.3,-3.32],[-2.03,-1.91],[-1.91,-2.4],[-2.1,-2.67],[-1.89,-3.16],[-1.71,-1.48],[-1.53,-1.7],[-1.11,-1.91],[-1.15,-2.29],[-1.38,-2.78],[-1.26,-3.22],[-1.29,-3.87],[-0.79,-1.73],[-0.79,-2.29],[-0.01,-3.16],[0.21,-3.16],[-0.01,-4.19],[-0.01,-4.41],[0.86,-2.46],[0.99,-2.38]];

const seriesByPlot = [
  [red48,orange48,green48,gray48,brown48],
  [red49,orange49,green49,gray49,brown49],
  [red50,orange50,green50,gray50,brown50],
  [red51,orange51,green51,gray51,brown51],
  [red52,orange52,green52,gray52,brown52],
  [red53,orange53,green53,gray53,brown53],
  [red54,orange54,green54,gray54,brown54],
  [red55,orange55,green55,gray55,brown55],
  [red56,orange56,green56,gray56,brown56],
  [red57,orange57,green57,gray57,brown57],
  [red58,orange58,green58,gray58,brown58],
  [red59,orange59,green59,gray59,brown59],
  [red60,orange60,green60,gray60,brown60],
  [red61,orange61,green61,gray61,brown61],
  [red62,orange62,green62,gray62,brown62]
];

// ---------- rendering ----------
const NS = "http://www.w3.org/2000/svg";
const svg = document.getElementById("fig");
const COL_LEFT = [300, 956.5, 1613];
const AX_W = 547, AX_H = 342;
const ROW_TOP0 = 386, ROW_STEP = 517.75;
const R = 8.3;

function mk(tag, attrs, parent) {
  const el = document.createElementNS(NS, tag);
  for (const k in attrs) el.setAttribute(k, attrs[k]);
  parent.appendChild(el);
  return el;
}
function fmt(v, dec) {
  const s = dec ? v.toFixed(1) : String(Math.round(v));
  return s.replace("-", "\u2212");
}

parities.forEach((par, i) => {
  const col = i % 3, row = Math.floor(i / 3);
  const L = COL_LEFT[col], T = ROW_TOP0 + row * ROW_STEP;
  const [x0, x1] = xlims[i], [y0, y1] = ylims[i];
  const sx = v => L + (v - x0) / (x1 - x0) * AX_W;
  const sy = v => T + AX_H - (v - y0) / (y1 - y0) * AX_H;

  const g = mk("g", {}, svg);
  
  

  const bg = mk("rect", {x:L, y:T, width:AX_W, height:AX_H, fill:"#E5E5E5"}, g);
  
  

  const xdec = xticks[i].some(v => v % 1 !== 0);
  const ydec = yticks[i].some(v => v % 1 !== 0);

  xticks[i].forEach(v => {
    const X = sx(v);
    const gl = mk("line", {x1:X, x2:X, y1:T, y2:T+AX_H, stroke:"#ffffff", "stroke-width":2}, g);
    
    
    const tk = mk("line", {x1:X, x2:X, y1:T+AX_H, y2:T+AX_H+9, stroke:"#555555", "stroke-width":2}, g);
    
    
    const tl = mk("text", {x:X, y:T+AX_H+42, "text-anchor":"middle", "font-size":25, fill:"#555555"}, g);
    tl.textContent = fmt(v, xdec);
    
    
  });
  yticks[i].forEach(v => {
    const Y = sy(v);
    const gl = mk("line", {x1:L, x2:L+AX_W, y1:Y, y2:Y, stroke:"#ffffff", "stroke-width":2}, g);
    
    
    const tk = mk("line", {x1:L-9, x2:L, y1:Y, y2:Y, stroke:"#555555", "stroke-width":2}, g);
    
    
    const tl = mk("text", {x:L-13, y:Y+9, "text-anchor":"end", "font-size":25, fill:"#555555"}, g);
    tl.textContent = fmt(v, ydec);
    
    
  });

  seriesByPlot[i].forEach((pts, c) => {
    const sg = mk("g", {fill: classColors[c]}, g);
    
    
    pts.forEach(p => {
      const dot = mk("circle", {cx:sx(p[0]), cy:sy(p[1]), r:R}, sg);
      
      
    });
  });

  const title = mk("text", {x:L+AX_W/2, y:T-19, "text-anchor":"middle", "font-size":43, fill:"#000000"}, g);
  title.textContent = "t-SNE (Parity = " + par + ")";
  
  
});
</script>
</body>
</html>
